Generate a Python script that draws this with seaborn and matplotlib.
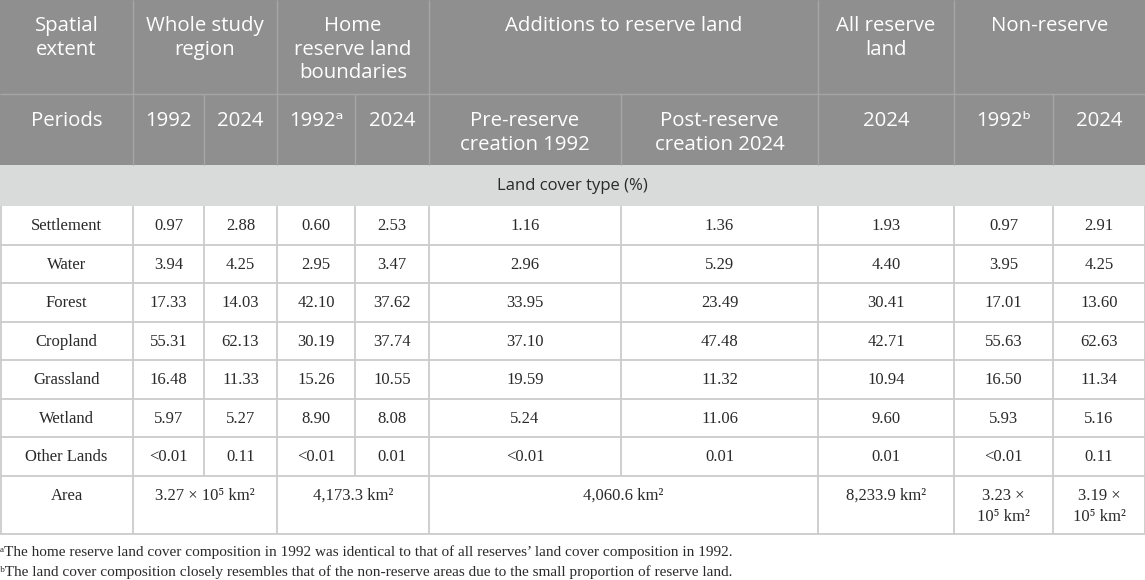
import matplotlib.pyplot as plt
import seaborn as sns
from matplotlib.patches import Rectangle

sns.set_theme(style="white")

# --- table content ---
group_labels = ["Spatial\nextent", "Whole study\nregion", "Home\nreserve land\nboundaries",
                "Additions to reserve land", "All reserve\nland", "Non-reserve"]
group_spans = [(0, 1), (1, 3), (3, 5), (5, 7), (7, 8), (8, 10)]
period_labels = ["Periods", "1992", "2024", "1992\u1d43", "2024",
                 "Pre-reserve\ncreation 1992", "Post-reserve\ncreation 2024",
                 "2024", "1992\u1d47", "2024"]
section_label = "Land cover type (%)"

land_types = ["Settlement", "Water", "Forest", "Cropland", "Grassland", "Wetland", "Other Lands"]
settlement = ["0.97", "2.88", "0.60", "2.53", "1.16", "1.36", "1.93", "0.97", "2.91"]
water = ["3.94", "4.25", "2.95", "3.47", "2.96", "5.29", "4.40", "3.95", "4.25"]
forest = ["17.33", "14.03", "42.10", "37.62", "33.95", "23.49", "30.41", "17.01", "13.60"]
cropland = ["55.31", "62.13", "30.19", "37.74", "37.10", "47.48", "42.71", "55.63", "62.63"]
grassland = ["16.48", "11.33", "15.26", "10.55", "19.59", "11.32", "10.94", "16.50", "11.34"]
wetland = ["5.97", "5.27", "8.90", "8.08", "5.24", "11.06", "9.60", "5.93", "5.16"]
other_lands = ["<0.01", "0.11", "<0.01", "0.01", "<0.01", "0.01", "0.01", "<0.01", "0.11"]
values = [settlement, water, forest, cropland, grassland, wetland, other_lands]

area_label = "Area"
area_values = ["3.27 \u00d7 10\u2075 km\u00b2", "4,173.3 km\u00b2", "4,060.6 km\u00b2",
               "8,233.9 km\u00b2", "3.23 \u00d7\n10\u2075 km\u00b2", "3.19 \u00d7\n10\u2075 km\u00b2"]
area_spans = [(1, 3), (3, 5), (5, 7), (7, 8), (8, 9), (9, 10)]

footnotes = [
    "\u1d43The home reserve land cover composition in 1992 was identical to that of all reserves\u2019 land cover composition in 1992.",
    "\u1d47The land cover composition closely resembles that of the non-reserve areas due to the small proportion of reserve land.",
]

# --- layout (pixels) ---
W, H = 1145, 580
col_edges = [0, 133, 204, 277, 355, 429, 621, 818, 954, 1053, 1145]
y_head1, y_head2, y_sec, y_body = 0, 94, 165, 206
row_h = 38.5
y_area = y_body + row_h * len(land_types)
y_end = 534

head_bg = "#8f8f8f"
head_line = "#a6a6a6"
sec_bg = "#d9dada"
grid = "#cbcbcb"
ink = "#2a2a2a"

sans = ["Open Sans", "DejaVu Sans"]
serif = ["Liberation Serif", "DejaVu Serif"]

fig = plt.figure(figsize=(W / 100, H / 100), dpi=100)
ax = fig.add_axes([0, 0, 1, 1])
ax.set_xlim(0, W)
ax.set_ylim(H, 0)
ax.axis("off")

# header backgrounds
ax.add_patch(Rectangle((0, y_head1), W, y_sec - y_head1, color=head_bg, lw=0))
ax.add_patch(Rectangle((0, y_sec), W, y_body - y_sec, color=sec_bg, lw=0))

# header lines
ax.hlines(y_head2, 0, W, color=head_line, lw=1)
for a, b in group_spans[1:]:
    ax.vlines(col_edges[a], y_head1, y_head2, color=head_line, lw=1)
ax.vlines(col_edges[1:-1], y_head2, y_sec, color=head_line, lw=1)

def cx(a, b):
    return (col_edges[a] + col_edges[b]) / 2

for lab, (a, b) in zip(group_labels, group_spans):
    ax.text(cx(a, b), 16, lab, ha="center", va="top", color="white",
            fontsize=14.7, family=sans, linespacing=1.24, multialignment="center")
for i, lab in enumerate(period_labels):
    ax.text(cx(i, i + 1), 111, lab, ha="center", va="top", color="white",
            fontsize=14.7, family=sans, linespacing=1.24, multialignment="center")

ax.text(W / 2, (y_sec + y_body) / 2, section_label, ha="center", va="center",
        color=ink, fontsize=12, family=sans)

# body
for r, (name, row) in enumerate(zip(land_types, values)):
    yc = y_body + row_h * (r + 0.5) + 1
    ax.text(cx(0, 1), yc, name, ha="center", va="center", color=ink, fontsize=12, family=serif)
    for c, v in enumerate(row):
        ax.text(cx(c + 1, c + 2), yc, v, ha="center", va="center", color=ink,
                fontsize=12, family=serif)

body_lines = [y_body + row_h * k for k in range(1, len(land_types) + 1)]
ax.hlines(body_lines, 0, W, color=grid, lw=1.3)
ax.hlines(y_end, 0, W, color=grid, lw=1.3)
ax.vlines(col_edges[1:-1], y_body, y_area, color=grid, lw=1.3)
ax.vlines([col_edges[a] for a, b in area_spans], y_area, y_end, color=grid, lw=1.3)
ax.vlines([0.5, W - 0.5], y_body, y_end, color=grid, lw=1.3)

ax.text(cx(0, 1), y_area + 12, area_label, ha="center", va="top", color=ink,
        fontsize=12, family=serif)
for v, (a, b) in zip(area_values, area_spans):
    ax.text(cx(a, b), y_area + 12, v, ha="center", va="top", color=ink,
            fontsize=12, family=serif, linespacing=1.45, multialignment="center")

for k, note in enumerate(footnotes):
    ax.text(0, 552 + 20 * k, note, ha="left", va="center", color=ink,
            fontsize=11, family=serif)

fig.savefig("out.png", dpi=100)
